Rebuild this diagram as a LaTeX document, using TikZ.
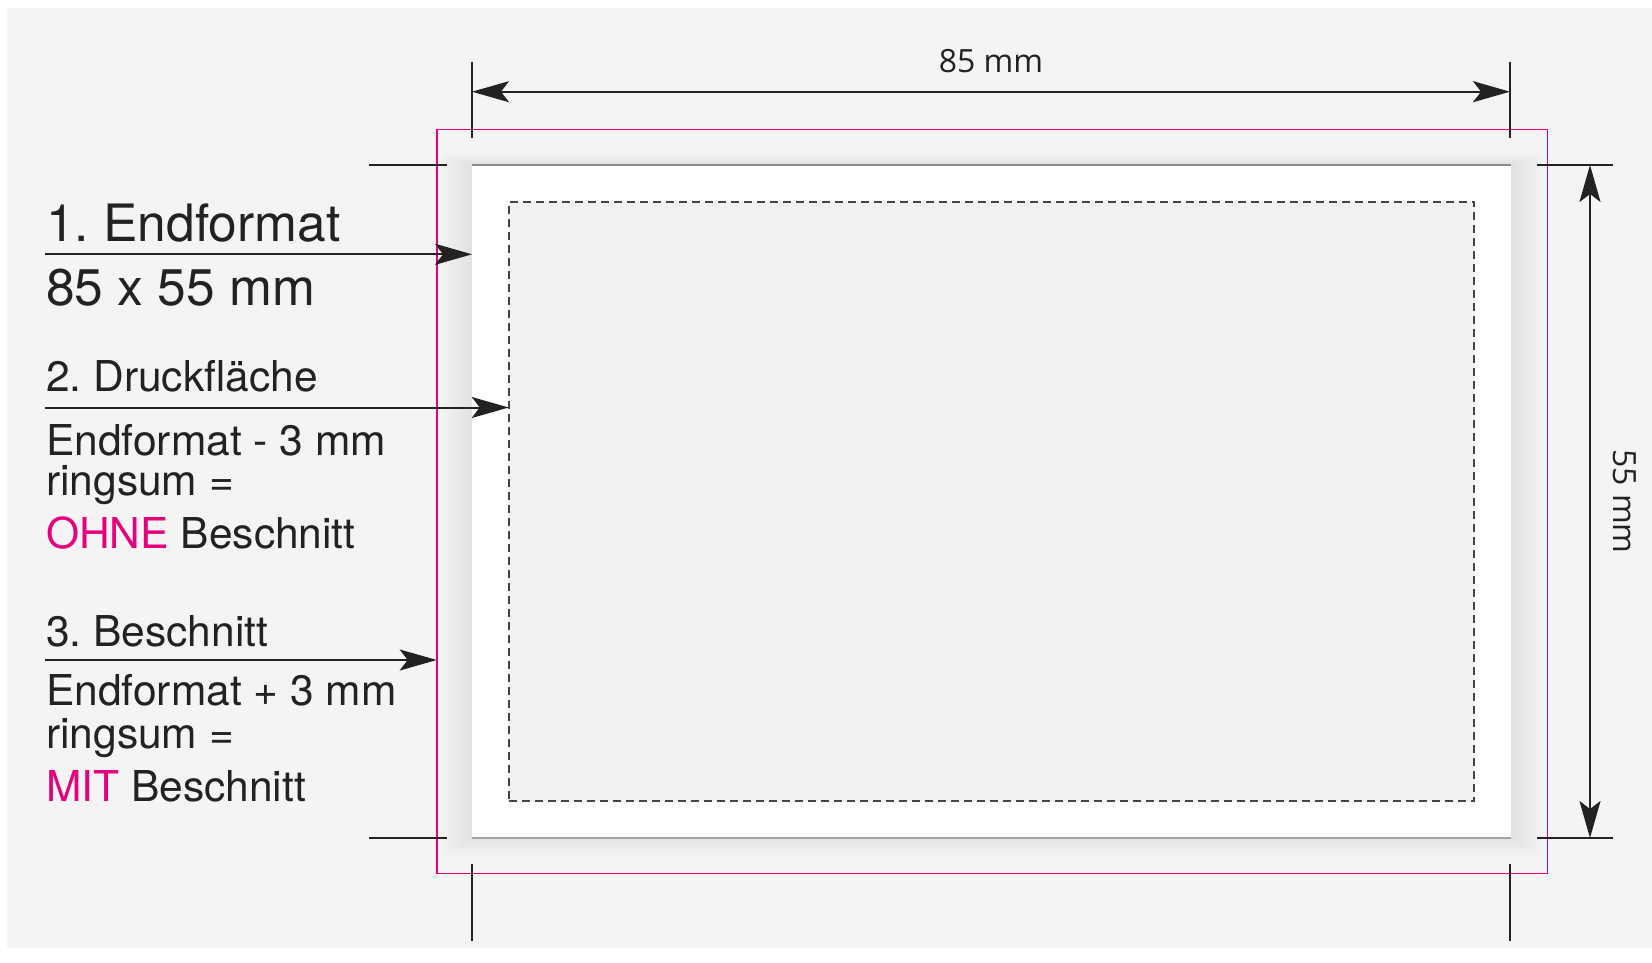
\documentclass[tikz,border=0pt]{standalone}
\usepackage{fontspec}
\setmainfont{TeX Gyre Heros}
\newfontfamily\dimfont{Open Sans}
\usetikzlibrary{arrows.meta}
\definecolor{bg}{HTML}{F4F4F4}
\definecolor{ink}{HTML}{222222}
\definecolor{mag}{RGB}{230,0,126}
\definecolor{inner}{HTML}{F1F1F1}
\definecolor{edge}{HTML}{8C8C8C}
\definecolor{dashc}{HTML}{444444}
\tikzset{
  pointer/.style={draw=ink, line width=2pt, -{Stealth[length=37pt,width=21pt,inset=8pt]}},
  dimarrow/.style={draw=ink, line width=2pt, {Stealth[length=37pt,width=21pt,inset=8pt]}-{Stealth[length=37pt,width=21pt,inset=8pt]}},
  tick/.style={draw=ink, line width=2pt},
  bigtxt/.style={anchor=base west, inner sep=0pt, text=ink, font=\fontsize{51.5}{60}\selectfont},
  midtxt/.style={anchor=base west, inner sep=0pt, text=ink, font=\fontsize{42.5}{51}\selectfont},
  dimtxt/.style={anchor=base, inner sep=0pt, text=ink, font=\dimfont\fontsize{32}{38}\selectfont},
  box/.style={inner sep=0pt, outer sep=0pt, anchor=north west},
}
\frenchspacing
\begin{document}
\begin{tikzpicture}[x=1pt, y=-1pt]
\useasboundingbox (0,0) rectangle (1652,962);
\fill[white] (0,0) rectangle (1652,962);
\fill[bg] (7,8) rectangle (1652,948);
% shadow
\foreach \i in {1,...,9}{
  \fill[black!60!blue, opacity=0.006] (472-3.5*\i,165-1.2*\i) rectangle (1511+3.5*\i,838+2*\i);
}
% card (Endformat)
\node[box, fill=white, minimum width=1039pt, minimum height=673pt] (card) at (472,165) {};
% print area (Druckflaeche)
\node[box, fill=inner, draw=dashc, line width=2pt, dash pattern=on 8pt off 5pt,
      minimum width=965.6pt, minimum height=599.6pt] (druck) at (508.7,201.7) {};
\draw[edge, line width=2pt] (card.north west) -- (card.north east);
\draw[edge!80, line width=2pt] (card.south west) -- (card.south east);
\draw[black!12, line width=0.8pt] (card.north east) -- (card.south east);
% bleed (Beschnitt)
\node[box, draw=mag, line width=1.6pt, minimum width=1110.6pt, minimum height=744pt] (bleed) at (436.7,129.3) {};
% crop ticks
\coordinate (tl1) at (472,61.7);  \coordinate (tl2) at (472,138);
\coordinate (tr1) at (1510,61.7); \coordinate (tr2) at (1510,138);
\coordinate (bl1) at (472,864);   \coordinate (bl2) at (472,941);
\coordinate (br1) at (1510,864);  \coordinate (br2) at (1510,941);
\coordinate (lt1) at (369,165);   \coordinate (lt2) at (446.7,165);
\coordinate (lb1) at (369,838);   \coordinate (lb2) at (446.7,838);
\coordinate (rt1) at (1537,165);  \coordinate (rt2) at (1613,165);
\coordinate (rb1) at (1537,838);  \coordinate (rb2) at (1613,838);
\draw[tick] (tl1) -- (tl2);
\draw[tick] (tr1) -- (tr2);
\draw[tick] (bl1) -- (bl2);
\draw[tick] (br1) -- (br2);
\draw[tick] (lt1) -- (lt2);
\draw[tick] (lb1) -- (lb2);
\draw[tick] (rt1) -- (rt2);
\draw[tick] (rb1) -- (rb2);
% dimension arrows
\coordinate (hA) at (472,91.7);  \coordinate (hB) at (1510,91.7);
\coordinate (vA) at (1590,165);  \coordinate (vB) at (1590,838);
\draw[dimarrow] (hA) -- (hB);
\draw[dimarrow] (vA) -- (vB);
\node[dimtxt] (w85) at (991,72.7) {85 mm};
\node[dimtxt, rotate=-90] (h55) at (1613,501.5) {55 mm};
% left texts
\node[bigtxt] (t1a) at (46,241.7) {1. Endformat};
\node[bigtxt] (t1b) at (46,305) {85 x 55 mm};
\node[midtxt] (t2a) at (46,391.7) {2. Druckfläche};
\node[midtxt] (t2b) at (46,455) {Endformat - 3 mm};
\node[midtxt] (t2c) at (46,495) {ringsum =};
\node[midtxt] (t2d) at (46,548.3) {\textcolor{mag}{OHNE} Beschnitt};
\node[midtxt] (t3a) at (46,646.7) {3. Beschnitt};
\node[midtxt] (t3b) at (46,705) {Endformat + 3 mm};
\node[midtxt] (t3c) at (46,748) {ringsum =};
\node[midtxt] (t3d) at (46,801.7) {\textcolor{mag}{MIT} Beschnitt};
% pointer arrows
\coordinate (p1) at (45,254.3);
\coordinate (p2) at (45,407.5);
\coordinate (p3) at (45,660);
\draw[pointer] (p1) -- (p1 -| card.west);
\draw[pointer] (p2) -- (p2 -| druck.west);
\draw[pointer] (p3) -- (p3 -| bleed.west);
\end{tikzpicture}
\end{document}
